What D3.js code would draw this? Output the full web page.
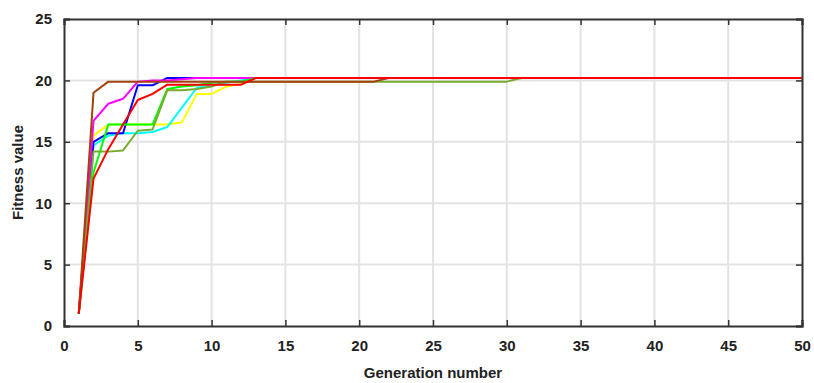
<!DOCTYPE html>
<html>
<head>
<meta charset="utf-8">
<script src="https://cdn.jsdelivr.net/npm/d3@7"></script>
<style>
  body { margin: 0; background: #fff; }
  text { font-family: "Liberation Sans Narrow", "Liberation Sans", Arial, sans-serif; font-weight: bold; fill: #222; }
</style>
</head>
<body>
<div class="chart"></div>
<script>
// generations 1..50
const generations = d3.range(1, 51);

// fitness per generation, one array per run (values after the last listed are held)
const yellowRun  = [1, 15.5, 16.4, 16.4, 16.4, 16.4, 16.4, 16.6, 18.9, 18.9, 19.5, 19.7, 20.2];
const cyanRun    = [1, 14.7, 15.5, 15.7, 15.7, 15.8, 16.2, 17.8, 19.4, 19.6, 19.8, 20.0, 20.2];
const blueRun    = [1, 15.0, 15.7, 15.7, 19.6, 19.6, 20.2];
const magentaRun = [1, 16.7, 18.1, 18.5, 19.9, 20.0, 20.0, 20.1, 20.2];
const greenRun   = [1, 12.5, 16.4, 16.4, 16.4, 16.4, 19.3, 19.5, 19.6, 19.8, 19.9, 19.9, 20.2];
const oliveRun   = [1, 14.2, 14.2, 14.3, 15.9, 16.0, 19.2, 19.2, 19.3, 19.5, 19.9, 19.9, 19.9, 19.9, 19.9,
                    19.9, 19.9, 19.9, 19.9, 19.9, 19.9, 19.9, 19.9, 19.9, 19.9, 19.9, 19.9, 19.9, 19.9, 19.9, 20.2];
const brownRun   = [1, 19.0, 19.9, 19.9, 19.9, 19.9, 19.9, 19.9, 19.9, 19.9, 19.9, 19.9, 19.9, 19.9, 19.9,
                    19.9, 19.9, 19.9, 19.9, 19.9, 19.9, 20.2];
const redRun     = [1, 12.0, 14.4, 16.4, 18.4, 18.9, 19.65, 19.65, 19.65, 19.65, 19.65, 19.65, 20.2];

const runs = [
  { values: yellowRun,  color: "#ffff00" },
  { values: cyanRun,    color: "#00ffff" },
  { values: blueRun,    color: "#0000ff" },
  { values: magentaRun, color: "#ff00ff" },
  { values: greenRun,   color: "#00ff00" },
  { values: oliveRun,   color: "#77ac30" },
  { values: brownRun,   color: "#a5410d" },
  { values: redRun,     color: "#ff0000" },
];

const xTicks = d3.range(0, 51, 5);
const yTicks = [0, 5, 10, 15, 20, 25];

let margin = { top: 19, right: 12, bottom: 57, left: 64 };
let fullWidth = 814, fullHeight = 383;
let width = fullWidth - margin.left - margin.right;
let height = fullHeight - margin.top - margin.bottom;

let svg = d3.select('.chart')
  .append('svg')
    .attr('width', fullWidth)
    .attr('height', fullHeight)
  .append('g')
    .attr('transform', `translate(${margin.left}, ${margin.top})`);

let xScale = d3.scaleLinear().domain([0, 50]).range([0, width]);
let yScale = d3.scaleLinear().domain([0, 25]).range([height, 0]);

// grid
svg.append('g')
  .selectAll('line.vx')
  .data(xTicks.slice(1, -1))
  .enter().append('line')
    .attr('x1', d => xScale(d)).attr('x2', d => xScale(d))
    .attr('y1', 0).attr('y2', height)
    .style('stroke', '#e3e3e3').style('stroke-width', 2);

svg.append('g')
  .selectAll('line.hy')
  .data(yTicks.slice(1, -1))
  .enter().append('line')
    .attr('x1', 0).attr('x2', width)
    .attr('y1', d => yScale(d)).attr('y2', d => yScale(d))
    .style('stroke', '#e3e3e3').style('stroke-width', 2);

// lines
let line = d3.line()
  .x((d, i) => xScale(generations[i]))
  .y(d => yScale(d));

runs.forEach(r => {
  let vals = generations.map((g, i) => i < r.values.length ? r.values[i] : r.values[r.values.length - 1]);
  svg.append('path')
    .datum(vals)
    .attr('d', line)
    .style('fill', 'none')
    .style('stroke', r.color)
    .style('stroke-width', 2)
    .style('stroke-linejoin', 'round');
});

// axes (ticks inward, box around)
let xAxis = d3.axisBottom(xScale).tickValues(xTicks).tickSize(-6).tickPadding(14);
let xAxisTop = d3.axisTop(xScale).tickValues(xTicks).tickSize(-6).tickFormat('');
let yAxis = d3.axisLeft(yScale).tickValues(yTicks).tickSize(-6).tickPadding(12);
let yAxisRight = d3.axisRight(yScale).tickValues(yTicks).tickSize(-6).tickFormat('');

function styleAxis(g) {
  g.select('.domain').style('stroke', '#333').style('stroke-width', 2);
  g.selectAll('.tick line').style('stroke', '#333').style('stroke-width', 1.5);
  g.selectAll('.tick text').style('font-size', '15px').style('fill', '#222');
}

svg.append('g').attr('transform', `translate(0, ${height})`).call(xAxis).call(styleAxis);
svg.append('g').call(xAxisTop).call(styleAxis);
svg.append('g').call(yAxis).call(styleAxis);
svg.append('g').attr('transform', `translate(${width}, 0)`).call(yAxisRight).call(styleAxis);

svg.selectAll('.tick text').attr('font-family', null);

// axis labels
svg.append('text')
  .attr('x', width / 2)
  .attr('y', height + 52)
  .attr('text-anchor', 'middle')
  .style('font-size', '15px')
  .text('Generation number');

svg.append('text')
  .attr('transform', `translate(${-41}, ${height / 2}) rotate(-90)`)
  .attr('text-anchor', 'middle')
  .style('font-size', '15px')
  .text('Fitness value');
</script>
</body>
</html>
